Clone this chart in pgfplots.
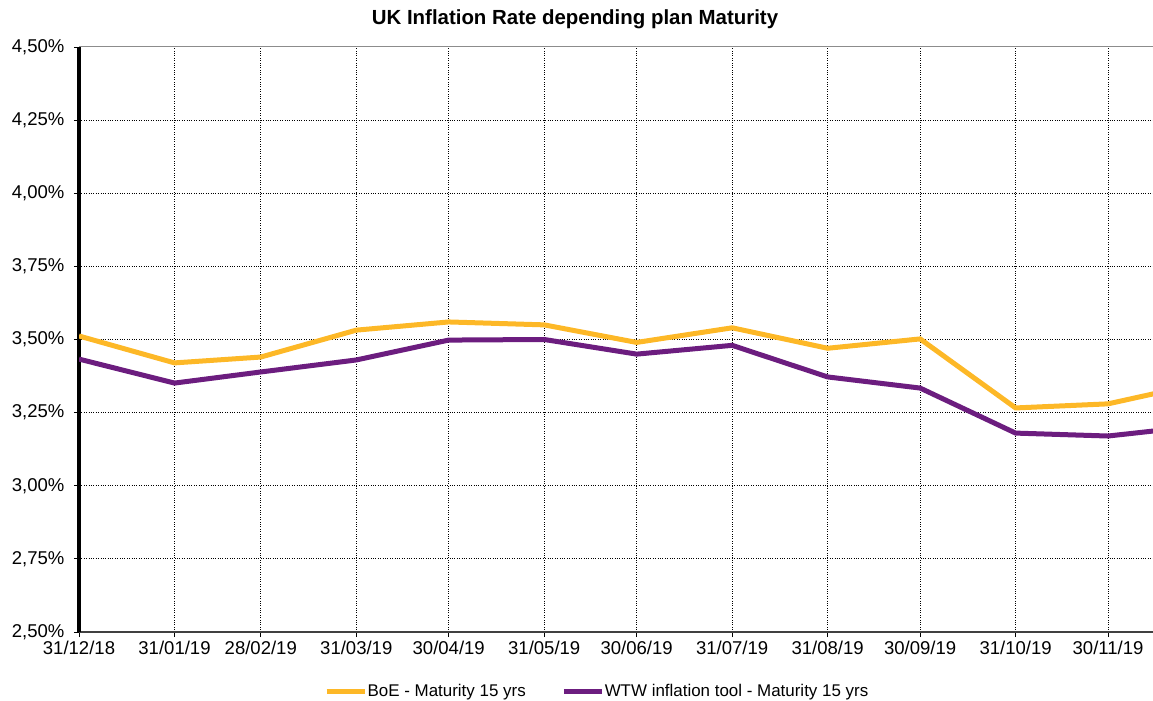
\documentclass[border=0pt]{standalone}
\usepackage{pgfplots}
\pgfplotsset{compat=1.18}
\usepackage{fontspec}
\setmainfont{Liberation Sans}

\definecolor{boe}{HTML}{FDB827}
\definecolor{wtw}{HTML}{6C1D7F}

% days counted from 31/12/18
\pgfplotstableread{
day boe wtw
0   3.512 3.433
31  3.420 3.351
59  3.440 3.389
90  3.532 3.430
120 3.560 3.498
151 3.550 3.500
181 3.490 3.450
212 3.540 3.480
243 3.470 3.372
273 3.502 3.334
304 3.266 3.180
334 3.280 3.170
365 3.352 3.206
}\data

\begin{document}
\begin{tikzpicture}
\useasboundingbox (0,0) rectangle (1153bp,701bp);
\node[font=\fontsize{20.5}{24}\selectfont\bfseries] at (575bp,682bp) {UK Inflation Rate depending plan Maturity};
\begin{axis}[
  at={(79bp,69bp)}, anchor=south west,
  scale only axis, width=1074bp, height=585bp,
  xmin=0, xmax=348.6, ymin=2.5, ymax=4.5,
  axis x line*=bottom, axis y line*=left,
  x axis line style={draw=black!75, line width=1.2bp, -},
  y axis line style={draw=black, line width=3.5bp, -},
  xtick={0,31,59,90,120,151,181,212,243,273,304,334},
  xticklabels={31/12/18,31/01/19,28/02/19,31/03/19,30/04/19,31/05/19,30/06/19,31/07/19,31/08/19,30/09/19,31/10/19,30/11/19},
  ytick={2.5,2.75,3,3.25,3.5,3.75,4,4.25,4.5},
  yticklabels={{2,50\%},{2,75\%},{3,00\%},{3,25\%},{3,50\%},{3,75\%},{4,00\%},{4,25\%},{4,50\%}},
  tick label style={font=\fontsize{18.6}{22}\selectfont},
  tick align=outside, major tick length=5bp,
  tick style={black, line width=0.8bp},
  xticklabel style={yshift=-1bp},
  yticklabel style={xshift=-6bp},
  grid=major,
  major grid style={black, dotted, line width=1bp},
  legend columns=2,
  legend style={at={(0.4818,-0.1009)}, anchor=center, draw=none, fill=none,
    font=\fontsize{17}{20}\selectfont,
    nodes={inner xsep=0.5bp},
    /tikz/every even column/.append style={column sep=35bp}},
  legend image code/.code={\draw[#1] (0,0) -- (38bp,0);},
]
\draw[black!45, line width=1bp] (axis cs:0,4.5) -- (axis cs:348.6,4.5);
\addplot[boe, line width=5bp] table[x=day, y=boe] {\data};
\addlegendentry{BoE - Maturity 15 yrs}
\addplot[wtw, line width=5bp] table[x=day, y=wtw] {\data};
\addlegendentry{WTW inflation tool - Maturity 15 yrs}
\end{axis}
\end{tikzpicture}
\end{document}
